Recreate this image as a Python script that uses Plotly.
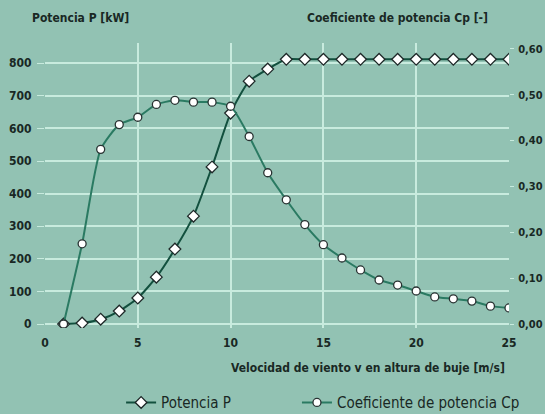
import plotly.graph_objects as go

wind_speed = list(range(1, 26))
power_kw = [0, 3, 15, 40, 80, 144, 230, 331, 482, 647, 745, 782,
            812, 812, 812, 812, 812, 812, 812, 812, 812, 812, 812, 812, 812]
cp = [0.0, 0.175, 0.381, 0.435, 0.451, 0.479, 0.488, 0.484, 0.484, 0.475, 0.409, 0.330,
      0.271, 0.217, 0.173, 0.144, 0.118, 0.096, 0.085, 0.072, 0.059, 0.055, 0.050, 0.039, 0.035]

x_ticks = [0, 5, 10, 15, 20, 25]
p_ticks = [0, 100, 200, 300, 400, 500, 600, 700, 800]
cp_ticks = [0.0, 0.1, 0.2, 0.3, 0.4, 0.5, 0.6]

BG = "rgb(146,194,179)"
GRID = "rgb(200,235,222)"
DARK = "rgb(18,80,62)"
MID = "rgb(42,122,98)"
TXT = "rgb(25,40,36)"
FONT = "DejaVu Sans Condensed, Liberation Sans Narrow, sans-serif"

fig = go.Figure()
fig.add_trace(go.Scatter(
    x=wind_speed, y=cp, yaxis="y2", name="Coeficiente de potencia Cp", legend="legend2",
    mode="lines+markers", line=dict(color=MID, width=2, shape="spline", smoothing=0.6),
    marker=dict(symbol="circle", size=8, color="white", line=dict(color="rgb(40,50,50)", width=1.3)),
))
fig.add_trace(go.Scatter(
    x=wind_speed, y=power_kw, name="Potencia P", legend="legend",
    mode="lines+markers", line=dict(color=DARK, width=2, shape="spline", smoothing=0.6),
    marker=dict(symbol="diamond", size=9, color="white", line=dict(color="rgb(30,40,40)", width=1.3)),
))

legend_common = dict(orientation="h", xanchor="left", y=-0.262, yanchor="middle",
                     font=dict(size=15, color=TXT), bgcolor="rgba(0,0,0,0)")

fig.update_layout(
    width=545, height=414,
    margin=dict(l=45, r=36, t=43, b=86, autoexpand=False),
    paper_bgcolor=BG, plot_bgcolor=BG,
    separators=",.",
    font=dict(family=FONT, size=12, color=TXT),
    showlegend=True,
    legend=dict(x=0.164, **legend_common),
    legend2=dict(x=0.543, **legend_common),
    xaxis=dict(range=[0, 25], tickvals=x_ticks, showgrid=True, gridcolor=GRID, gridwidth=1.5,
               zeroline=False, showline=False, ticks="", ticklabelstandoff=6,
               tickfont=dict(size=12, weight="bold", color=TXT),
               title=dict(text="")),
    yaxis=dict(range=[-12, 862], tickvals=p_ticks, showgrid=True, gridcolor=GRID, gridwidth=1.5,
               zeroline=False, showline=False, ticks="outside", ticklen=7, tickcolor=GRID,
               ticklabelstandoff=3,
               tickfont=dict(size=12, weight="bold", color=TXT)),
    yaxis2=dict(range=[-0.0087, 0.613], tickvals=cp_ticks, tickformat=".2f", overlaying="y",
                side="right", showgrid=False, zeroline=False, showline=False,
                ticks="outside", ticklen=4, tickcolor=GRID, ticklabelstandoff=2,
                tickfont=dict(size=11, weight="bold", color=TXT)),
    annotations=[
        dict(text="Potencia P [kW]", xref="paper", yref="paper", x=-0.032, y=1.0, yshift=25,
             xanchor="left", yanchor="middle", showarrow=False,
             font=dict(size=12, weight="bold", color=TXT)),
        dict(text="Coeficiente de potencia Cp [-]", xref="paper", yref="paper", x=0.959, y=1.0, yshift=25,
             xanchor="right", yanchor="middle", showarrow=False,
             font=dict(size=12, weight="bold", color=TXT)),
        dict(text="Velocidad de viento v en altura de buje [m/s]", xref="paper", yref="paper",
             x=0.995, y=0.0, yshift=-40, xanchor="right", yanchor="middle", showarrow=False,
             font=dict(size=12, weight="bold", color=TXT)),
    ],
)

fig.write_html("out.html", config={"displayModeBar": False},
               post_script="document.body.style.margin='0';document.body.style.overflow='hidden';")
